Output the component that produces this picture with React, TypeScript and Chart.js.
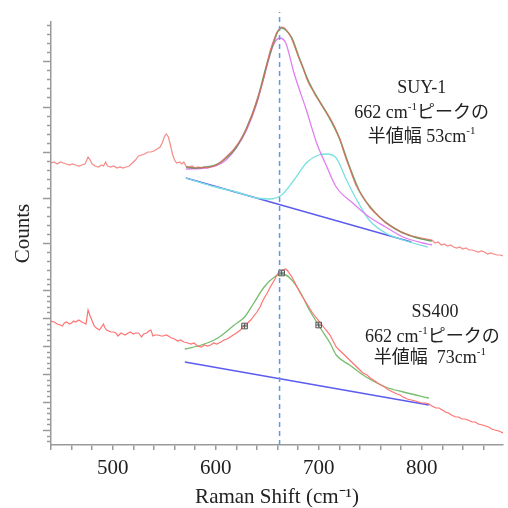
import React, { useEffect, useRef } from 'react';
import { Chart, registerables } from 'chart.js';
Chart.register(...registerables);

// ---- axis ranges ----
const X_MIN = 440;
const X_MAX = 879;
const Y_MIN = 0;
const Y_MAX = 423;
const X_TICK_STEP = 20;
const X_LABELS = [500, 600, 700, 800];
const PEAK_X = 662;

// ---- SUY-1 (upper) ----
const SUY1_SPECTRUM: [number, number][] = [
  [440,282],[443,283],[446,281],[449,283],[452,282],[455,281],[458,280],[461,281],[464,280],[467,279],[470,280],[473,281],[476,288],[478,285],[480,281],[483,279],[486,278],[489,280],[491,279],[493,283],[495,279],[498,278],[501,279],[504,277],[507,278],[510,277],[513,278],[516,279],[519,282],[522,285],[525,289],[528,290],[531,291],[534,293],[537,293],[540,294],[543,296],[546,298],[548,302],[550,308],[552,311],[554,308],[556,300],[558,291],[560,285],[562,282],[565,283],[567,281],[569,283],[571,279],[574,278],[577,279],[580,277],[583,278],[586,277],[589,278],[592,277],[595,278],[598,279],[601,280],[604,282],[607,285],[610,288],[613,291],[616,294],[619,298],[622,302],[625,307],[628,312],[631,319],[634,327],[637,335],[640,345],[643,354],[647,368],[650,382],[653,395],[656,404],[659,412],[662,416],[664,418],[667,417],[670,413],[673,408],[676,400],[679,392],[682,384],[685,377],[688,367],[691,360],[694,355],[697,349],[700,345],[703,340],[706,335],[709,330],[712,325],[715,319],[718,312],[721,305],[724,294],[727,285],[730,277],[733,268],[736,260],[740,253],[745,245],[750,237],[755,232],[760,227],[765,222],[770,219],[775,216],[780,213],[785,211],[790,209],[795,208],[800,207],[805,206],[810,205],[813,202],[816,203],[819,200],[822,201],[825,199],[828,200],[831,198],[834,197],[837,198],[840,196],[843,197],[846,195],[849,195],[852,194],[855,193],[858,194],[861,193],[864,191],[867,192],[870,191],[873,190],[876,190],[879,189]
];
const SUY1_FIT: [number, number][] = [
  [571,278],[580,277],[590,278],[600,280],[610,287],[620,298],[630,317],[640,344],[650,382],[656,402],[660,413],[664,417],[668,415],[674,407],[680,390],[690,364],[700,345],[710,328],[720,307],[730,278],[740,253],[750,238],[760,227],[770,219],[780,213],[790,209],[800,206],[810,204]
];
const SUY1_PEAK662: [number, number][] = [
  [571,276],[590,277],[600,279],[610,285],[620,297],[630,315],[640,342],[650,380],[656,400],[662,407],[668,402],[676,372],[688,335],[698,302],[708,278],[717,258],[733,242],[749,228],[765,218],[782,208],[801,202],[810,200]
];
const SUY1_PEAK705: [number, number][] = [
  [571,267],[600,258],[620,253],[640,247],[652,246],[664,250],[676,265],[688,282],[700,290],[708,291],[717,287],[727,265],[737,245],[749,225],[765,212],[782,205],[806,198]
];
const SUY1_BASELINE: [number, number][] = [[571,267],[790,203]];

// ---- SS400 (lower) ----
const SS400_SPECTRUM: [number, number][] = [
  [440,124],[443,123],[446,121],[449,120],[451,119],[453,122],[455,123],[458,121],[460,122],[462,124],[464,123],[467,125],[470,123],[472,122],[474,121],[476,135],[478,129],[480,124],[482,119],[484,117],[487,115],[489,118],[491,121],[492,118],[494,115],[496,114],[498,113],[501,113],[503,112],[505,109],[508,112],[510,111],[512,110],[515,112],[517,113],[520,111],[522,112],[525,112],[528,108],[530,111],[533,112],[535,114],[537,115],[539,109],[541,110],[544,110],[547,109],[549,109],[552,110],[554,109],[557,107],[560,106],[563,104],[566,105],[569,103],[573,102],[576,101],[579,102],[582,99],[586,98],[589,100],[592,99],[595,100],[598,102],[601,101],[605,103],[608,105],[611,106],[614,108],[617,110],[620,112],[624,115],[627,119],[630,121],[634,125],[637,129],[640,133],[643,138],[646,145],[650,152],[653,158],[657,165],[660,171],[662,174],[665,175],[668,176],[670,174],[672,171],[674,168],[677,162],[680,156],[682,152],[685,147],[688,142],[691,137],[694,132],[697,128],[701,123],[704,119],[707,115],[711,110],[714,104],[717,98],[720,95],[724,91],[727,88],[730,85],[733,82],[737,78],[740,75],[743,72],[747,70],[750,67],[753,65],[756,63],[760,60],[764,58],[768,55],[772,53],[776,51],[779,50],[782,48],[786,46],[790,45],[794,44],[797,43],[800,42],[804,42],[807,41],[810,39],[814,37],[817,37],[820,35],[823,33],[826,32],[829,30],[833,28],[836,28],[839,26],[842,26],[845,25],[849,23],[852,23],[855,21],[859,20],[862,19],[865,18],[868,16],[871,15],[875,14],[879,12]
];
const SS400_FIT: [number, number][] = [
  [570,96],[586,100],[602,107],[618,120],[628,128],[637,142],[647,158],[657,168],[664,171],[672,167],[682,153],[691,135],[701,118],[711,102],[717,90],[730,80],[746,68],[765,58],[782,53],[807,47]
];
const SS400_BASELINE: [number, number][] = [[570,83],[807,40]];
const SS400_MARKERS: [number, number][] = [[628,119],[664,172],[700,120]];

// ---- annotations (position in data units) ----
type Seg = { t: string; sup?: boolean };
type Note = { x: number; y: number; align: 'center' | 'left'; segs: Seg[] };
const NOTES: Note[] = [
  { x: 800, y: 357, align: 'center', segs: [{ t: 'SUY-1' }] },
  { x: 800, y: 332, align: 'center', segs: [{ t: '662 cm' }, { t: '-1', sup: true }, { t: 'ピークの' }] },
  { x: 800, y: 308, align: 'center', segs: [{ t: '半値幅 53cm' }, { t: '-1', sup: true }] },
  { x: 813, y: 133, align: 'center', segs: [{ t: 'SS400' }] },
  { x: 745, y: 108, align: 'left', segs: [{ t: '662 cm' }, { t: '-1', sup: true }, { t: 'ピークの' }] },
  { x: 808, y: 87, align: 'center', segs: [{ t: '半値幅  73cm' }, { t: '-1', sup: true }] },
];

const SERIF = '"Liberation Serif", "Times New Roman", "Noto Sans CJK JP", serif';
const MAIN_FONT = `18px ${SERIF}`;
const SUP_FONT = `11px ${SERIF}`;

const toXY = (arr: [number, number][]) => arr.map(([x, y]) => ({ x, y }));

const notesPlugin = {
  id: 'notes',
  afterDatasetsDraw(chart: any) {
    const { ctx, scales } = chart;
    const xs = scales.x, ys = scales.y;
    ctx.save();
    ctx.fillStyle = '#222';
    ctx.textBaseline = 'middle';
    ctx.textAlign = 'left';
    for (const n of NOTES) {
      const widths = n.segs.map((s) => {
        ctx.font = s.sup ? SUP_FONT : MAIN_FONT;
        return ctx.measureText(s.t).width;
      });
      const total = widths.reduce((a, b) => a + b, 0);
      const px = xs.getPixelForValue(n.x);
      const py = ys.getPixelForValue(n.y);
      let cx = n.align === 'center' ? px - total / 2 : px;
      n.segs.forEach((s, i) => {
        ctx.font = s.sup ? SUP_FONT : MAIN_FONT;
        ctx.fillText(s.t, cx, s.sup ? py - 6 : py);
        cx += widths[i];
      });
    }
    ctx.restore();
  },
};

// custom y tick marks (two sections with different spacing)
const yTicksPlugin = {
  id: 'yTicks',
  afterDraw(chart: any) {
    const { ctx, scales } = chart;
    const ys = scales.y;
    const axisX = chart.chartArea.left;
    const sections = [
      { start: 384, step: 9.1, from: -24, to: 4, lo: 165, hi: 423 },
      { start: 15, step: 5.6, from: -2, to: 26, lo: 0, hi: 164 },
    ];
    ctx.save();
    ctx.strokeStyle = '#9a9a9a';
    ctx.lineWidth = 1.5;
    for (const s of sections) {
      for (let k = s.from; k <= s.to; k++) {
        const v = s.start + k * s.step;
        if (v < s.lo || v > s.hi) continue;
        const py = Math.round(ys.getPixelForValue(v)) + 0.5;
        const len = k % 5 === 0 ? 8 : 4;
        ctx.beginPath();
        ctx.moveTo(axisX - len, py);
        ctx.lineTo(axisX, py);
        ctx.stroke();
      }
    }
    ctx.restore();
  },
};

export default function App() {
  const ref = useRef<HTMLCanvasElement>(null);
  useEffect(() => {
    document.body.style.margin = '0';
    document.body.style.overflow = 'hidden';
    const line = (data: [number, number][], color: string, width: number, smooth: boolean) => ({
      data: toXY(data),
      borderColor: color,
      backgroundColor: color,
      borderWidth: width,
      pointRadius: 0,
      fill: false,
      tension: 0,
      cubicInterpolationMode: smooth ? 'monotone' : 'default',
    });
    const chart = new Chart(ref.current!, {
      type: 'line',
      data: {
        datasets: [
          {
            data: [{ x: PEAK_X, y: Y_MIN }, { x: PEAK_X, y: Y_MAX + 10 }],
            borderColor: '#5c9be2',
            borderWidth: 1.5,
            borderDash: [5, 4],
            pointRadius: 0,
            clip: false,
          } as any,
          {
            data: toXY(SS400_MARKERS),
            showLine: false,
            pointStyle: 'cross',
            pointRadius: 2.5,
            borderColor: '#555',
            borderWidth: 1,
          },
          {
            data: toXY(SS400_MARKERS),
            showLine: false,
            pointStyle: 'rect',
            pointRadius: 4,
            borderColor: '#555',
            backgroundColor: 'rgba(200,200,200,0.35)',
            borderWidth: 1,
          },
          line(SUY1_SPECTRUM, 'rgba(240,100,95,0.75)', 1.2, false),
          line(SS400_SPECTRUM, 'rgb(255,115,115)', 1.2, false),
          line(SS400_FIT, 'rgba(110,185,100,0.95)', 1.3, true),
          line(SUY1_FIT, 'rgba(90,150,80,0.9)', 1.6, true),
          line(SUY1_PEAK662, '#e07ef0', 1.3, true),
          line(SUY1_PEAK705, '#78e2e0', 1.3, true),
          line(SUY1_BASELINE, '#5b5bef', 1.3, false),
          line(SS400_BASELINE, '#5b5bef', 1.3, false),
        ] as any,
      },
      options: {
        animation: false,
        responsive: false,
        maintainAspectRatio: false,
        devicePixelRatio: 1,
        layout: { padding: { top: 22, right: 0, left: 0, bottom: 0 } },
        plugins: { legend: { display: false }, tooltip: { enabled: false } },
        scales: {
          x: {
            type: 'linear',
            min: X_MIN,
            max: X_MAX,
            afterFit: (s: any) => { s.height = 63; },
            grid: { display: true, drawOnChartArea: false, drawTicks: true, tickLength: 5, color: '#9a9a9a', lineWidth: 1.5 },
            border: { display: true, color: '#9a9a9a', width: 1.5 },
            ticks: {
              stepSize: X_TICK_STEP,
              includeBounds: false,
              autoSkip: false,
              maxRotation: 0,
              padding: 8,
              color: '#222',
              font: { family: SERIF, size: 21, lineHeight: 1 },
              callback: (v: any) => (X_LABELS.includes(Number(v)) ? String(v) : ''),
            },
            title: {
              display: true,
              text: 'Raman Shift (cm⁻¹)',
              color: '#222',
              font: { family: SERIF, size: 21, lineHeight: 1 },
              padding: { top: 0, bottom: 0 },
            },
          },
          y: {
            type: 'linear',
            min: Y_MIN,
            max: Y_MAX,
            afterFit: (s: any) => { s.width = 51; },
            grid: { display: false },
            border: { display: true, color: '#9a9a9a', width: 1.5 },
            ticks: { display: false },
            title: {
              display: true,
              text: 'Counts',
              color: '#222',
              font: { family: SERIF, size: 21, lineHeight: 1 },
              padding: { top: 13, bottom: 0 },
            },
          },
        },
      } as any,
      plugins: [notesPlugin, yTicksPlugin],
    });
    return () => chart.destroy();
  }, []);
  return (
    <div style={{ width: 508, height: 508, background: '#fff' }}>
      <canvas ref={ref} width={508} height={508} style={{ display: 'block', width: 508, height: 508 }} />
    </div>
  );
}
